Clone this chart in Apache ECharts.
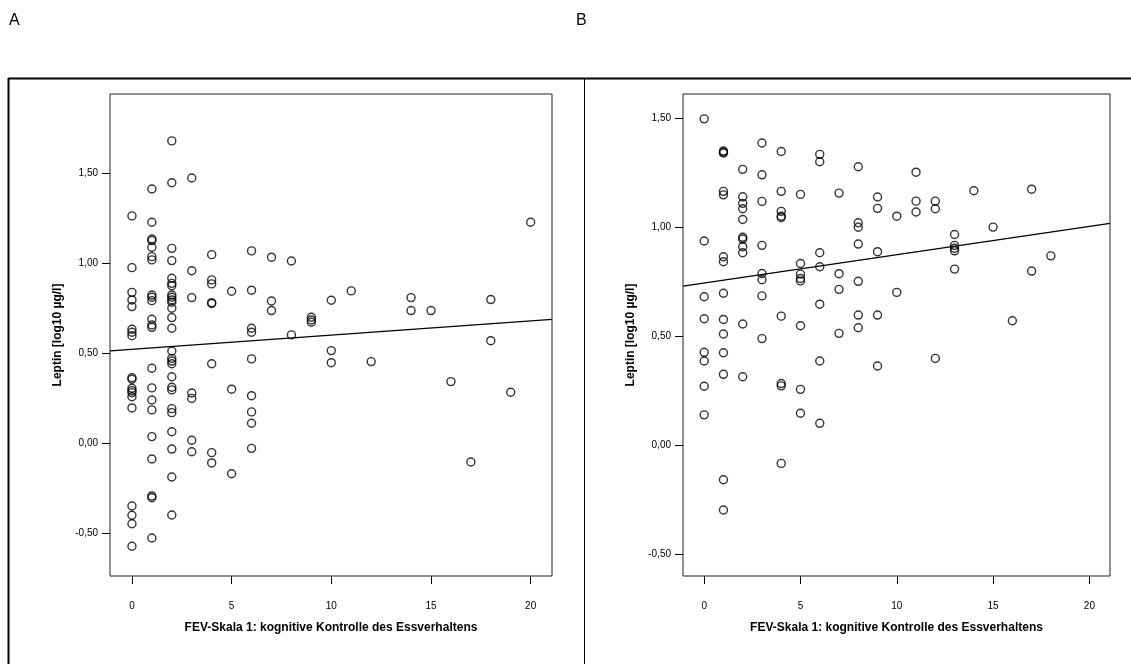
<!DOCTYPE html>
<html>
<head>
<meta charset="utf-8">
<script src="https://cdn.jsdelivr.net/npm/echarts@6/dist/echarts.min.js"></script>
<style>
html,body{margin:0;padding:0;background:#fff;}
#chart{width:1131px;height:664px;}
</style>
</head>
<body>
<div id="chart"></div>
<script>
// ---- Data ----
const panelLabels = ['A', 'B'];
const xTitle = 'FEV-Skala 1: kognitive Kontrolle des Essverhaltens';
const yTitle = 'Leptin [log10 µg/l]';
const xTicks = [0, 5, 10, 15, 20];
const yTicks = [-0.5, 0, 0.5, 1, 1.5];

// Panel A
const fevA = [
  0,0,0,0,0,0,0,0,0,0,0,0,0,0,0,0,0,0,0,
  1,1,1,1,1,1,1,1,1,1,1,1,1,1,1,1,1,1,1,1,1,1,
  2,2,2,2,2,2,2,2,2,2,2,2,2,2,2,2,2,2,2,2,2,2,2,2,2,2,2,
  3,3,3,3,3,3,3,
  4,4,4,4,4,4,4,4,
  5,5,5,
  6,6,6,6,6,6,6,6,6,
  7,7,7,
  8,8,
  9,9,9,
  10,10,10,
  11,12,14,14,15,16,17,18,18,19,20
];
const leptinA = [
  1.261,0.974,0.837,0.795,0.758,0.632,0.616,0.597,0.364,0.355,0.305,0.292,0.281,0.258,0.196,-0.348,-0.399,-0.446,-0.571,
  1.410,1.226,1.133,1.124,1.087,1.035,1.017,0.822,0.810,0.791,0.688,0.656,0.643,0.416,0.307,0.240,0.185,0.037,-0.087,-0.292,-0.302,-0.525,
  1.677,1.445,1.081,1.013,0.915,0.887,0.874,0.822,0.810,0.795,0.782,0.749,0.697,0.638,0.512,0.471,0.456,0.441,0.369,0.311,0.296,0.192,0.170,0.064,-0.032,-0.187,-0.398,
  1.471,0.957,0.808,0.279,0.249,0.017,-0.047,
  1.046,0.906,0.884,0.780,0.775,0.441,-0.052,-0.109,
  0.843,0.300,-0.169,
  1.067,0.849,0.638,0.616,0.468,0.264,0.174,0.111,-0.028,
  1.032,0.789,0.736,
  1.011,0.601,
  0.699,0.684,0.671,
  0.793,0.514,0.447,
  0.845,0.453,0.808,0.736,0.736,0.342,-0.104,0.797,0.569,0.283,1.226
];
const fitA = { intercept: 0.521, slope: 0.0079 };

// Panel B
const fevB = [
  0,0,0,0,0,0,0,0,
  1,1,1,1,1,1,1,1,1,1,1,1,1,1,
  2,2,2,2,2,2,2,2,2,2,2,
  3,3,3,3,3,3,3,3,
  4,4,4,4,4,4,4,4,4,
  5,5,5,5,5,5,5,5,
  6,6,6,6,6,6,6,
  7,7,7,7,
  8,8,8,8,8,8,8,
  9,9,9,9,9,
  10,10,
  11,11,11,
  12,12,12,
  13,13,13,13,13,
  14,15,16,17,17,18
];
const leptinB = [
  1.498,0.937,0.681,0.580,0.426,0.386,0.270,0.139,
  1.350,1.345,1.341,1.165,1.149,0.865,0.842,0.697,0.577,0.510,0.424,0.325,-0.159,-0.298,
  1.266,1.140,1.110,1.085,1.036,0.954,0.946,0.911,0.883,0.556,0.314,
  1.387,1.241,1.119,0.917,0.788,0.759,0.685,0.489,
  1.348,1.165,1.073,1.051,1.045,0.592,0.283,0.272,-0.084,
  1.151,0.834,0.785,0.765,0.754,0.548,0.256,0.146,
  1.335,1.301,0.883,0.819,0.647,0.386,0.100,
  1.157,0.787,0.715,0.513,
  1.278,1.021,1.000,0.923,0.752,0.597,0.539,
  1.139,1.087,0.888,0.597,0.363,
  1.051,0.701,
  1.253,1.120,1.070,
  1.120,1.085,0.398,
  0.967,0.917,0.904,0.892,0.808,
  1.168,1.001,0.571,1.175,0.799,0.869
];
const fitB = { intercept: 0.744, slope: 0.0130 };

// ---- Chart ----
const xRange = [-1.1, 21.07];
const yRangeA = [-0.736, 1.937];
const yRangeB = [-0.601, 1.612];
const FONT = '"Liberation Sans", Arial, sans-serif';

function pairs(xs, ys) { return xs.map((x, i) => [x, ys[i]]); }
function fitLine(fit) {
  return [xRange[0], xRange[1]].map(x => [x, fit.intercept + fit.slope * x]);
}
function fmt(v) { return v.toFixed(2).replace('.', ','); }

function xAxis(gi) {
  return {
    type: 'value', gridIndex: gi, min: xRange[0], max: xRange[1],
    splitLine: { show: false },
    axisLine: { show: false, onZero: false },
    axisTick: { show: true, length: 8, inside: false, customValues: xTicks, lineStyle: { color: '#000', width: 1 } },
    axisLabel: { customValues: xTicks, margin: 25, fontFamily: FONT, fontSize: 10, color: '#000' },
    name: xTitle, nameLocation: 'middle', nameGap: 46,
    nameTextStyle: { fontFamily: FONT, fontSize: 12, fontWeight: 'bold', color: '#000' }
  };
}
function yAxis(gi, range) {
  return {
    type: 'value', gridIndex: gi, min: range[0], max: range[1],
    splitLine: { show: false },
    axisLine: { show: false, onZero: false },
    axisTick: { show: true, length: 8, inside: false, customValues: yTicks, lineStyle: { color: '#000', width: 1 } },
    axisLabel: { customValues: yTicks, margin: 12, fontFamily: FONT, fontSize: 10, color: '#000', formatter: fmt },
    name: yTitle, nameLocation: 'middle', nameGap: 46, nameRotate: 90,
    nameTextStyle: { fontFamily: FONT, fontSize: 12, fontWeight: 'bold', color: '#000' }
  };
}
const pointStyle = { color: 'rgba(0,0,0,0)', borderColor: '#000', borderWidth: 1.4 };

const option = {
  backgroundColor: '#fff',
  animation: false,
  grid: [
    { left: 110, top: 94, width: 442, height: 482, show: true, borderColor: '#222', borderWidth: 1, backgroundColor: '#fff' },
    { left: 683, top: 94, width: 427, height: 482, show: true, borderColor: '#222', borderWidth: 1, backgroundColor: '#fff' }
  ],
  xAxis: [xAxis(0), xAxis(1)],
  yAxis: [yAxis(0, yRangeA), yAxis(1, yRangeB)],
  graphic: [
    { type: 'text', left: 9, top: 13, style: { text: panelLabels[0], fontFamily: FONT, fontSize: 16, fill: '#000' } },
    { type: 'text', left: 576, top: 13, style: { text: panelLabels[1], fontFamily: FONT, fontSize: 16, fill: '#000' } },
    { type: 'line', shape: { x1: 8, y1: 78.5, x2: 1131, y2: 78.5 }, style: { stroke: '#000', lineWidth: 2 } },
    { type: 'line', shape: { x1: 8.5, y1: 78, x2: 8.5, y2: 664 }, style: { stroke: '#000', lineWidth: 2 } },
    { type: 'line', shape: { x1: 584.5, y1: 78, x2: 584.5, y2: 664 }, style: { stroke: '#000', lineWidth: 1 } }
  ],
  series: [
    { type: 'scatter', xAxisIndex: 0, yAxisIndex: 0, data: pairs(fevA, leptinA), symbol: 'circle', symbolSize: 8, itemStyle: pointStyle, z: 3 },
    { type: 'line', xAxisIndex: 0, yAxisIndex: 0, data: fitLine(fitA), symbol: 'none', lineStyle: { color: '#000', width: 1.3 }, z: 2 },
    { type: 'scatter', xAxisIndex: 1, yAxisIndex: 1, data: pairs(fevB, leptinB), symbol: 'circle', symbolSize: 8, itemStyle: pointStyle, z: 3 },
    { type: 'line', xAxisIndex: 1, yAxisIndex: 1, data: fitLine(fitB), symbol: 'none', lineStyle: { color: '#000', width: 1.3 }, z: 2 }
  ]
};
const chart = echarts.init(document.getElementById('chart'), null, { renderer: 'canvas' });
chart.setOption(option);
</script>
</body>
</html>
